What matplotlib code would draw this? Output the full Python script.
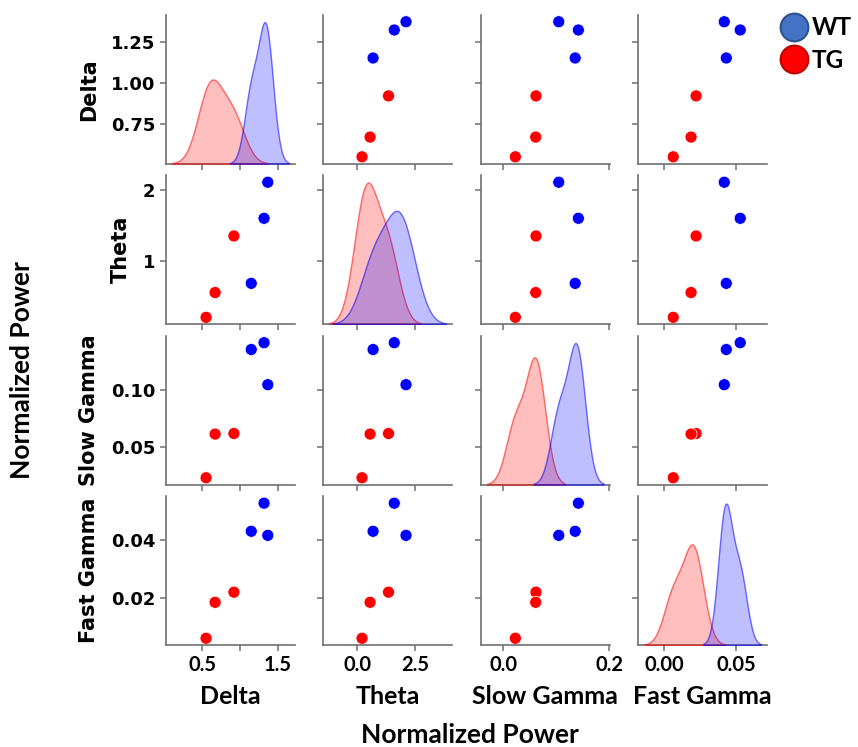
import pandas as pd
import numpy as np
import matplotlib
matplotlib.use('Agg')
import matplotlib.pyplot as plt
import seaborn as sns
from matplotlib.lines import Line2D
from matplotlib.colors import to_rgba

# values (3 WT animals, 3 TG animals)
groups = ['WT', 'WT', 'WT', 'TG', 'TG', 'TG']
delta = [1.37, 1.32, 1.15, 0.92, 0.67, 0.55]
theta = [2.11, 1.60, 0.68, 1.35, 0.55, 0.20]
slow_gamma = [0.105, 0.142, 0.136, 0.062, 0.0615, 0.023]
fast_gamma = [0.0417, 0.0528, 0.0431, 0.0221, 0.0186, 0.0062]

bands = ['Delta', 'Theta', 'Slow Gamma', 'Fast Gamma']
ticks = {
    'Delta': ([0.5, 1.0, 1.5], ['0.5', '', '1.5'], [0.75, 1.00, 1.25], ['0.75', '1.00', '1.25']),
    'Theta': ([0.0, 2.5], ['0.0', '2.5'], [1, 2], ['1', '2']),
    'Slow Gamma': ([0.0, 0.2], ['0.0', '0.2'], [0.05, 0.10], ['0.05', '0.10']),
    'Fast Gamma': ([0.00, 0.05], ['0.00', '0.05'], [0.02, 0.04], ['0.02', '0.04']),
}

df = pd.DataFrame({'Delta': delta, 'Theta': theta, 'Slow Gamma': slow_gamma,
                   'Fast Gamma': fast_gamma, 'Group': groups})

g = sns.pairplot(df, vars=bands, hue='Group', hue_order=['WT', 'TG'],
                 palette={'WT': 'blue', 'TG': 'red'}, diag_kind='kde',
                 plot_kws={'s': 75, 'edgecolor': 'white', 'linewidth': 0.5})
g._legend.remove()
fig = g.figure
fig.set_size_inches(8.58, 7.47)
fig.subplots_adjust(left=166/858, right=767/858, top=1-15/747, bottom=1-645/747,
                    wspace=0.225, hspace=0.08)

calib = ['Lato', 'DejaVu Sans']
spine_col = '#707070'

for i, row in enumerate(bands):
    for j, col in enumerate(bands):
        ax = g.axes[i, j]
        for s in ['left', 'bottom']:
            ax.spines[s].set_color(spine_col)
            ax.spines[s].set_linewidth(1.2)
        ax.tick_params(colors=spine_col, length=4, width=1.1)
        xt = ticks[col][0]
        ax.set_xticks(xt)
        if i < 3:
            ax.set_xticklabels([])
        if i != j:
            ax.set_yticks(ticks[row][2])
        if j > 0:
            ax.set_yticklabels([])
        ax.set_xlabel('')
        ax.set_ylabel('')

for i, row in enumerate(bands):
    ax = g.axes[i, 0]
    ax.set_yticks(ticks[row][2])
    ax.set_yticklabels(ticks[row][3], fontsize=13, fontweight='bold', color='black')
    ax.set_ylabel(row, fontsize=15, fontweight='bold', labelpad=9)

for j, col in enumerate(bands):
    ax = g.axes[3, j]
    ax.set_xticks(ticks[col][0])
    ax.set_xticklabels(ticks[col][1], fontsize=14.5, fontweight='bold', color='black', family=calib)
    ax.set_xlabel(col, fontsize=18, fontweight='bold', family=calib, labelpad=7)

# kde panels: lighter outline, no y ticks of their own
for dax in g.diag_axes:
    dax.tick_params(left=False, labelleft=False)
    for coll in dax.collections:
        fc = coll.get_facecolor()[0]
        coll.set_edgecolor(to_rgba(fc[:3], 0.55))
        coll.set_linewidth(1.0)

fig.text(470/858, 1-735/747, 'Normalized Power', ha='center', va='center',
         fontsize=19, fontweight='bold', family=calib)
fig.text(22/858, 1-370/747, 'Normalized Power', ha='center', va='center',
         rotation=90, fontsize=19, fontweight='bold', family=calib)

handles = [
    Line2D([], [], marker='o', linestyle='', markersize=20,
           markerfacecolor='#4472C4', markeredgecolor='#2F528F', markeredgewidth=1.5),
    Line2D([], [], marker='o', linestyle='', markersize=20,
           markerfacecolor='#FF0000', markeredgecolor='#C00000', markeredgewidth=1.5),
]
fig.legend(handles, ['WT', 'TG'], loc='upper right', bbox_to_anchor=(1.0, 1 - 10/747),
           borderaxespad=0.1, frameon=False, handletextpad=0.15, labelspacing=0.4,
           borderpad=0.15, handlelength=1.2,
           prop={'family': calib, 'weight': 'bold', 'size': 17.5})

fig.savefig('out.png', dpi=100)
